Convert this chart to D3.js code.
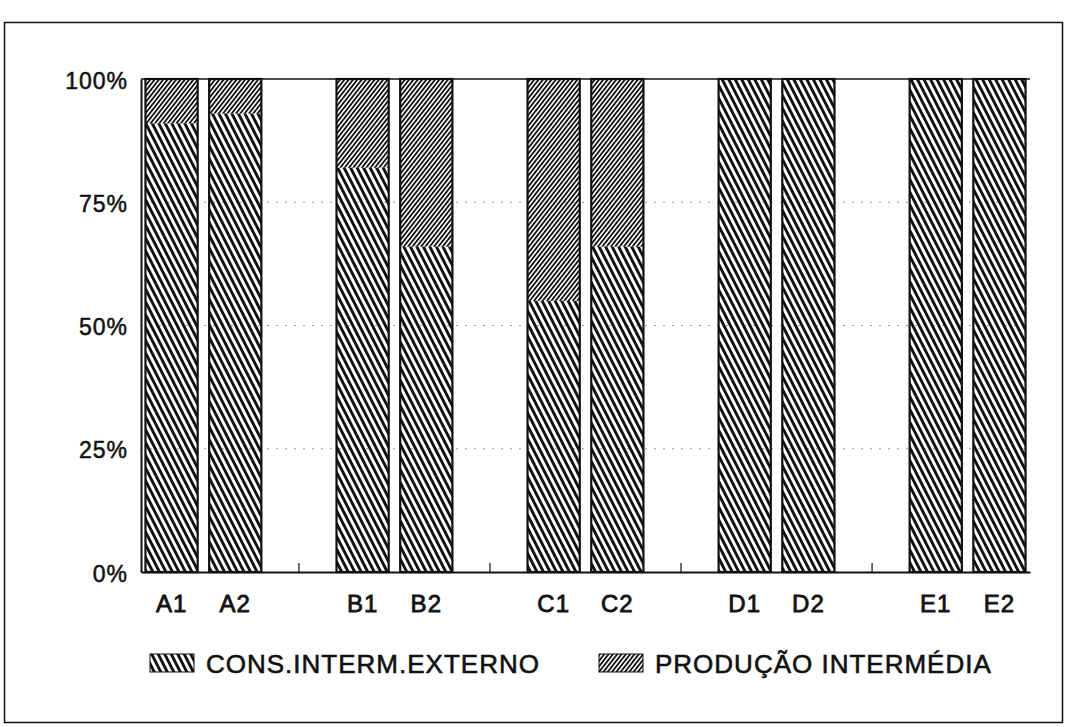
<!DOCTYPE html>
<html>
<head>
<meta charset="utf-8">
<script src="https://cdn.jsdelivr.net/npm/d3@7/dist/d3.min.js"></script>
<style>
	body { margin: 0; background: #fff; }
	svg text { font-family: "Liberation Sans", Arial, sans-serif; fill: #111; }
</style>
</head>
<body>
<div id="chart"></div>
<script>
	'use strict';
	// values (percent of each bar)
	var categories = ['A1', 'A2', 'B1', 'B2', 'C1', 'C2', 'D1', 'D2', 'E1', 'E2'];
	var consExterno = [91, 93, 82, 66, 55, 66, 100, 100, 100, 100];
	var producaoIntermedia = [9, 7, 18, 34, 45, 34, 0, 0, 0, 0];
	var seriesNames = ['CONS.INTERM.EXTERNO', 'PRODUÇÃO INTERMÉDIA'];
	var yTicks = [0, 25, 50, 75, 100];

	var width = 1068, height = 727;
	var margin = {top: 79, right: 38, bottom: 155, left: 141};
	var innerW = width - margin.left - margin.right,
		innerH = height - margin.top - margin.bottom;

	var svg = d3.select('#chart')
		.append('svg')
		.attr('width', width)
		.attr('height', height);

	var defs = svg.append('defs');
	// "\\\" hatch for the external consumption part
	defs.append('pattern')
		.attr('id', 'hatchBack')
		.attr('patternUnits', 'userSpaceOnUse')
		.attr('width', 5.8)
		.attr('height', 10)
		.attr('patternTransform', 'rotate(-27)')
		.append('rect')
		.attr('x', 0).attr('y', 0)
		.attr('width', 2.9).attr('height', 10)
		.attr('fill', '#111');
	// "///" denser hatch for produção intermédia
	defs.append('pattern')
		.attr('id', 'hatchFwd')
		.attr('patternUnits', 'userSpaceOnUse')
		.attr('width', 3.4)
		.attr('height', 10)
		.attr('patternTransform', 'rotate(38)')
		.append('rect')
		.attr('x', 0).attr('y', 0)
		.attr('width', 1.8).attr('height', 10)
		.attr('fill', '#111');

	// outer frame of the figure
	svg.append('rect')
		.attr('x', 4.5).attr('y', 22.5)
		.attr('width', 1058).attr('height', 700)
		.attr('fill', 'none')
		.attr('stroke', '#111')
		.attr('stroke-width', 1.5);

	var g = svg.append('g')
		.attr('transform', 'translate(' + margin.left + ',' + margin.top + ')');

	// slots: two bars per group, then an empty slot
	var slots = [];
	categories.forEach(function (c, i) {
		slots.push(c);
		if (i % 2 === 1 && i < categories.length - 1) {
			slots.push('gap' + i);
		}
	});

	var x = d3.scaleBand()
		.domain(slots)
		.range([0, innerW])
		.paddingInner(0.18)
		.paddingOuter(0.07);

	var y = d3.scaleLinear()
		.domain([0, 100])
		.range([innerH, 0]);

	// faint dotted grid
	g.selectAll('.grid')
		.data([25, 50, 75])
		.enter()
		.append('line')
		.attr('class', 'grid')
		.attr('x1', 0).attr('x2', innerW)
		.attr('y1', function (d) { return y(d); })
		.attr('y2', function (d) { return y(d); })
		.attr('stroke', '#999')
		.attr('stroke-width', 1)
		.attr('stroke-dasharray', '2,7');

	var data = categories.map(function (c, i) {
		return {cat: c, low: consExterno[i], high: producaoIntermedia[i]};
	});

	var bars = g.selectAll('.bar')
		.data(data)
		.enter()
		.append('g')
		.attr('class', 'bar');

	bars.append('rect')
		.attr('x', function (d) { return x(d.cat); })
		.attr('y', function (d) { return y(d.low); })
		.attr('width', x.bandwidth())
		.attr('height', function (d) { return y(0) - y(d.low); })
		.attr('fill', 'url(#hatchBack)');

	bars.append('rect')
		.attr('x', function (d) { return x(d.cat); })
		.attr('y', function (d) { return y(d.low + d.high); })
		.attr('width', x.bandwidth())
		.attr('height', function (d) { return y(d.low) - y(d.low + d.high); })
		.attr('fill', 'url(#hatchFwd)');

	bars.append('rect')
		.attr('x', function (d) { return x(d.cat); })
		.attr('y', function (d) { return y(d.low + d.high); })
		.attr('width', x.bandwidth())
		.attr('height', function (d) { return y(0) - y(d.low + d.high); })
		.attr('fill', 'none')
		.attr('stroke', '#111')
		.attr('stroke-width', 2.2);

	// top line of plot at 100%
	g.append('line')
		.attr('x1', 0).attr('x2', innerW)
		.attr('y1', y(100)).attr('y2', y(100))
		.attr('stroke', '#111')
		.attr('stroke-width', 1.5);

	// y axis
	var yAxis = g.append('g')
		.call(d3.axisLeft(y)
			.tickValues(yTicks)
			.tickSize(0)
			.tickPadding(13)
			.tickFormat(function (d) { return d + '%'; }));
	yAxis.select('.domain').attr('stroke', '#111').attr('stroke-width', 2);
	yAxis.selectAll('text')
		.style('font-size', '23px')
		.style('letter-spacing', '1px')
		.attr('stroke', '#111')
		.attr('stroke-width', 0.5)
		.attr('dy', '0.4em');

	// x axis
	var xAxis = g.append('g')
		.attr('transform', 'translate(0,' + innerH + ')')
		.call(d3.axisBottom(x)
			.tickValues(categories)
			.tickSize(0)
			.tickPadding(23));
	xAxis.select('.domain').attr('stroke', '#111').attr('stroke-width', 2);
	xAxis.selectAll('text')
		.style('font-size', '24px')
		.style('letter-spacing', '1px')
		.attr('stroke', '#111')
		.attr('stroke-width', 0.8);

	// small inward ticks in the gaps
	g.selectAll('.gaptick')
		.data(slots.filter(function (s) { return s.indexOf('gap') === 0; }))
		.enter()
		.append('line')
		.attr('class', 'gaptick')
		.attr('x1', function (d) { return x(d) + x.bandwidth() / 2; })
		.attr('x2', function (d) { return x(d) + x.bandwidth() / 2; })
		.attr('y1', innerH).attr('y2', innerH - 9)
		.attr('stroke', '#111')
		.attr('stroke-width', 1.2);

	// legend
	var legend = svg.append('g')
		.attr('transform', 'translate(150,654)');
	var legendX = [0, 449];
	var legendFill = ['url(#hatchBack)', 'url(#hatchFwd)'];
	seriesNames.forEach(function (name, i) {
		var item = legend.append('g')
			.attr('transform', 'translate(' + legendX[i] + ',0)');
		item.append('rect')
			.attr('width', 44).attr('height', 18)
			.attr('fill', legendFill[i])
			.attr('stroke', '#111')
			.attr('stroke-width', 1);
		item.append('text')
			.attr('x', 56).attr('y', 19)
			.style('font-size', '26px')
			.style('letter-spacing', '1px')
			.attr('stroke', '#111')
			.attr('stroke-width', 0.6)
			.text(name);
	});
</script>
</body>
</html>
